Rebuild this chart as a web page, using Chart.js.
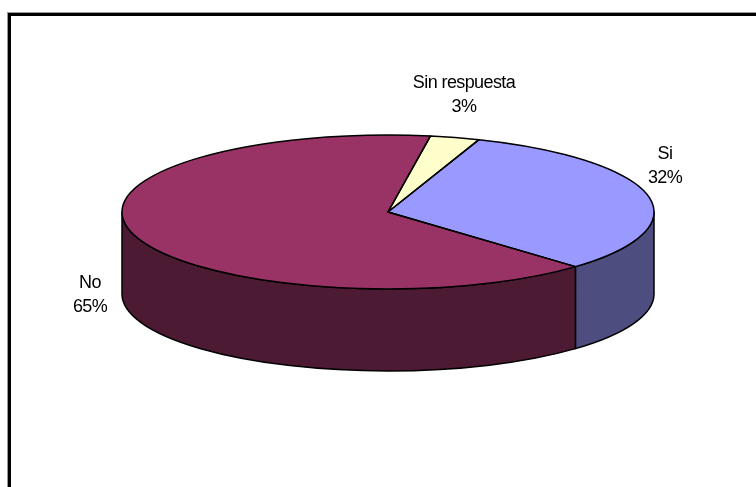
<!DOCTYPE html>
<html>
<head>
<meta charset="utf-8">
<style>
  html, body { margin: 0; padding: 0; background: #fff; }
  #wrap { position: relative; width: 756px; height: 487px; overflow: hidden; }
  #frame { position: absolute; left: 8px; top: 13px; width: 760px; height: 490px; border: 3px solid #000; box-sizing: border-box; box-shadow: 0 0 0 1px #999; }
  canvas { position: absolute; left: 0; top: 0; }
</style>
<script src="https://cdn.jsdelivr.net/npm/chart.js@4"></script>
</head>
<body>
<div id="wrap">
  <div id="frame"></div>
  <canvas id="pieChart" width="756" height="487"></canvas>
</div>
<script>
const categories = ['Si', 'No', 'Sin respuesta'];
const values = [32, 65, 3];
const percentLabels = ['32%', '65%', '3%'];
const topColors = ['#9999FF', '#993366', '#FFFFCC'];
const sideColors = ['#4D4D80', '#4D1A33', '#80805F'];

// tilted pie: flattened ellipse on the page plus extrusion depth
const tilt = { cx: 388, cy: 212, rx: 266, ry: 77, depth: 82 };
const labelPlaces = [[665, 154], [90, 283], [464, 83]];

function applyTilt(ctx, arc) {
  ctx.translate(tilt.cx, tilt.cy);
  ctx.scale(tilt.rx / arc.outerRadius, tilt.ry / arc.outerRadius);
  ctx.translate(-arc.x, -arc.y);
}

function slicePath(ctx, arc) {
  ctx.beginPath();
  ctx.moveTo(arc.x, arc.y);
  ctx.arc(arc.x, arc.y, arc.outerRadius, arc.startAngle, arc.endAngle);
  ctx.closePath();
}

// front wall of one slice, only the part facing the viewer (0..PI)
function wallPath(ctx, arc) {
  const from = Math.max(arc.startAngle, 0);
  const to = Math.min(arc.endAngle, Math.PI);
  if (to <= from) return false;
  ctx.beginPath();
  ctx.save();
  applyTilt(ctx, arc);
  ctx.arc(arc.x, arc.y, arc.outerRadius, from, to);
  ctx.restore();
  ctx.save();
  ctx.translate(0, tilt.depth);
  applyTilt(ctx, arc);
  ctx.arc(arc.x, arc.y, arc.outerRadius, to, from, true);
  ctx.restore();
  ctx.closePath();
  return true;
}

const tiltedPie = {
  id: 'tiltedPie',
  beforeDatasetsDraw(chart) {
    const ctx = chart.ctx;
    const arcs = chart.getDatasetMeta(0).data;
    arcs.forEach((arc, i) => {
      if (!wallPath(ctx, arc)) return;
      ctx.fillStyle = sideColors[i];
      ctx.fill();
      ctx.strokeStyle = '#000';
      ctx.lineWidth = 1.5;
      ctx.lineJoin = 'round';
      ctx.stroke();
    });
    ctx.save();
    applyTilt(ctx, arcs[0]);
  },
  afterDatasetsDraw(chart) {
    const ctx = chart.ctx;
    ctx.restore();
    const arcs = chart.getDatasetMeta(0).data;
    arcs.forEach((arc) => {
      ctx.save();
      applyTilt(ctx, arc);
      slicePath(ctx, arc);
      ctx.restore();
      ctx.strokeStyle = '#000';
      ctx.lineWidth = 1.5;
      ctx.lineJoin = 'round';
      ctx.stroke();
    });
    // data labels
    ctx.save();
    ctx.fillStyle = '#000';
    ctx.font = '18px "Liberation Sans", Arial, sans-serif';
    ctx.letterSpacing = '-0.6px';
    ctx.textAlign = 'center';
    ctx.textBaseline = 'middle';
    categories.forEach((name, i) => {
      const [x, y] = labelPlaces[i];
      ctx.fillText(name, x, y);
      ctx.fillText(percentLabels[i], x, y + 24);
    });
    ctx.restore();
  }
};

new Chart(document.getElementById('pieChart').getContext('2d'), {
  type: 'pie',
  data: {
    labels: categories,
    datasets: [{
      data: values,
      backgroundColor: topColors,
      borderWidth: 0,
      clip: false
    }]
  },
  options: {
    responsive: false,
    animation: false,
    rotation: 20,
    plugins: {
      legend: { display: false },
      tooltip: { enabled: false }
    }
  },
  plugins: [tiltedPie]
});
</script>
</body>
</html>
